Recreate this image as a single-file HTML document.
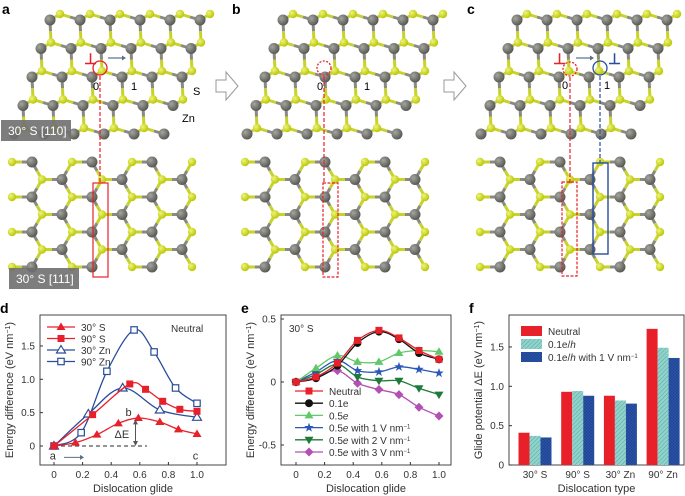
<!DOCTYPE html>
<html><head><meta charset="utf-8"><style>
html,body{margin:0;padding:0;background:#fff;}
svg{display:block;font-family:"Liberation Sans",sans-serif;}
</style></head><body>
<svg id="fig" width="685" height="496" viewBox="0 0 685 496">
<defs>
<pattern id="hatch" width="3" height="3" patternUnits="userSpaceOnUse" patternTransform="rotate(45)"><rect width="3" height="3" fill="#8fd3cc"/><line x1="0" y1="0" x2="0" y2="3" stroke="#5aa7a0" stroke-width="1"/></pattern>
<pattern id="cross" width="3" height="3" patternUnits="userSpaceOnUse"><rect width="3" height="3" fill="#1f4394"/><path d="M0 0L3 3M3 0L0 3" stroke="#2d56a8" stroke-width="0.6"/></pattern>
<radialGradient id="gS" cx="0.35" cy="0.35" r="0.7"><stop offset="0" stop-color="#eef57a"/><stop offset="1" stop-color="#b8c400"/></radialGradient>
<radialGradient id="gZ" cx="0.35" cy="0.35" r="0.7"><stop offset="0" stop-color="#a5a5a0"/><stop offset="1" stop-color="#55554f"/></radialGradient>
</defs>
<g id="atoms"></g>
<g id="overlay"></g>
<g id="chartD"></g>
<g id="chartE"></g>
<g id="chartF"></g>
</svg>
<script>
// ---------- chart data ----------
const dX30S=[0,0.15,0.3,0.45,0.59,0.74,0.87,1.0];
const dY30S=[0,0.05,0.17,0.34,0.42,0.36,0.25,0.18];
const dX90S=[0,0.27,0.53,0.64,0.76,0.88,1.0];
const dY90S=[0,0.47,0.93,0.85,0.67,0.55,0.52];
const dX30Zn=[0,0.24,0.48,0.74,1.0];
const dY30Zn=[0,0.48,0.87,0.54,0.43];
const dX90Zn=[0,0.19,0.37,0.56,0.7,0.85,1.0];
const dY90Zn=[0,0.2,1.12,1.74,1.41,0.87,0.64];
const dXTicks=[0,0.2,0.4,0.6,0.8,1.0];
const dXTickLabels=["0","0.2","0.4","0.6","0.8","1.0"];
const dYTicks=[0,0.5,1.0,1.5];
const dYTickLabels=["0","0.5","1.0","1.5"];

const eX=[0,0.14,0.29,0.43,0.58,0.72,0.86,1.0];
const eNeutral=[0,0.04,0.15,0.33,0.41,0.35,0.25,0.18];
const e01=[0,0.03,0.13,0.31,0.40,0.34,0.23,0.18];
const e05=[0,0.11,0.21,0.16,0.16,0.23,0.25,0.24];
const e05V1=[0,0.08,0.17,0.09,0.08,0.12,0.10,0.07];
const e05V2=[0,0.06,0.14,0.04,0.01,0.01,-0.05,-0.10];
const e05V3=[0,0.04,0.09,-0.01,-0.06,-0.10,-0.20,-0.27];
const eXTicks=[0,0.2,0.4,0.6,0.8,1.0];
const eXTickLabels=["0","0.2","0.4","0.6","0.8","1.0"];
const eYTicks=[-0.5,0,0.5];
const eYTickLabels=["-0.5","0","0.5"];

const fCategories=["30° S","90° S","30° Zn","90° Zn"];
const fNeutral=[0.41,0.93,0.88,1.73];
const fCharged=[0.37,0.94,0.82,1.49];
const fField=[0.35,0.88,0.78,1.36];
const fYTicks=[0,0.5,1.0,1.5];
const fYTickLabels=["0","0.5","1.0","1.5"];

const NS="http://www.w3.org/2000/svg";
function mk(parent,tag,attrs,text){const e=document.createElementNS(NS,tag);for(const k in attrs)e.setAttribute(k,attrs[k]);if(text!==undefined)e.textContent=text;parent.appendChild(e);return e;}
function smooth(pts){
  let d="M"+pts[0][0]+" "+pts[0][1];
  for(let i=0;i<pts.length-1;i++){
    const p0=pts[Math.max(0,i-1)],p1=pts[i],p2=pts[i+1],p3=pts[Math.min(pts.length-1,i+2)];
    const c1=[p1[0]+(p2[0]-p0[0])/6,p1[1]+(p2[1]-p0[1])/6];
    const c2=[p2[0]-(p3[0]-p1[0])/6,p2[1]-(p3[1]-p1[1])/6];
    d+=" C"+c1[0]+" "+c1[1]+" "+c2[0]+" "+c2[1]+" "+p2[0]+" "+p2[1];
  }
  return d;
}
function marker(g,type,x,y,col){
  let m;
  if(type==="tri"){m=mk(g,"path",{d:`M${x} ${y-4.5}L${x+4.5} ${y+3}L${x-4.5} ${y+3}Z`,fill:col});}
  else if(type==="otri"){m=mk(g,"path",{d:`M${x} ${y-4.5}L${x+4.5} ${y+3}L${x-4.5} ${y+3}Z`,fill:"#fff",stroke:col,"stroke-width":1.2});}
  else if(type==="sq"){m=mk(g,"rect",{x:x-3.5,y:y-3.5,width:7,height:7,fill:col});}
  else if(type==="osq"){m=mk(g,"rect",{x:x-3.2,y:y-3.2,width:6.4,height:6.4,fill:"#fff",stroke:col,"stroke-width":1.2});}
  else if(type==="circ"){m=mk(g,"circle",{cx:x,cy:y,r:4,fill:col});}
  else if(type==="dtri"){m=mk(g,"path",{d:`M${x} ${y+4.5}L${x+4.5} ${y-3}L${x-4.5} ${y-3}Z`,fill:col});}
  else if(type==="dia"){m=mk(g,"path",{d:`M${x} ${y-4.5}L${x+4.5} ${y}L${x} ${y+4.5}L${x-4.5} ${y}Z`,fill:col});}
  else if(type==="star"){let d="";for(let i=0;i<10;i++){const r=i%2?2:5;const a=-Math.PI/2+i*Math.PI/5;d+=(i?"L":"M")+(x+r*Math.cos(a))+" "+(y+r*Math.sin(a));}m=mk(g,"path",{d:d+"Z",fill:col});}
  
  
  return m;
}

// ---------- atoms ----------
const atoms=document.getElementById("atoms");
function drawLattice(list){
  const bonds=mk(atoms,"g",{});
  for(let i=0;i<list.length;i++)for(let j=i+1;j<list.length;j++){
    const a=list[i],b=list[j];if(a.t===b.t)continue;
    const d=Math.hypot(a.x-b.x,a.y-b.y);
    if(d<a.bl){
      const mx=(a.x+b.x)/2,my=(a.y+b.y)/2;
      mk(bonds,"line",{x1:a.x,y1:a.y,x2:mx,y2:my,stroke:a.t==="S"?"#c9d22a":"#8a8a84","stroke-width":3});
      mk(bonds,"line",{x1:b.x,y1:b.y,x2:mx,y2:my,stroke:b.t==="S"?"#c9d22a":"#8a8a84","stroke-width":3});
    }
  }
  list.forEach(p=>{const c=mk(atoms,"circle",{cx:p.x,cy:p.y,r:p.t==="S"?4.2:5.5,fill:p.t==="S"?"url(#gS)":"url(#gZ)"});
    
    });
}
function topLattice(ox){
  const list=[];
  for(let i=-8;i<14;i++)for(let j=0;j<6;j++){
    const zx=ox+50+i*30-j*9, zy=20+j*28.5;
    [[zx,zy,"Zn"],[zx+10,zy-6,"S"]].forEach(([x,y,t])=>{
      if(y>=7&&y<=140&&x>=ox+47-(y-13)*0.38&&x<=ox+216-(y-13)*0.38)list.push({x,y,t,bl:23.5});
    });
  }
  drawLattice(list);
}
function botLattice(ox,xmax){
  const list=[];
  for(let i=-2;i<10;i++)for(let j=-6;j<10;j++){
    const ax=ox+i*30, ay=162+j*35+i*17.5;
    [[ax,ay,"S"],[ax+20,ay,"Zn"]].forEach(([x,y,t])=>{
      if(y>=158&&y<=282&&x>=ox&&x<=xmax)list.push({x,y,t,bl:23});
    });
  }
  drawLattice(list);
}
topLattice(0);topLattice(233);topLattice(467);
botLattice(12,196);botLattice(245,428);botLattice(480,662);

// ---------- overlay ----------
const ov=document.getElementById("overlay");
function lbl(x,y,t,extra){const e=mk(ov,"text",Object.assign({x:x,y:y,"font-size":14,"font-weight":"bold"},extra||{}),t);return e;}
const la=lbl(2,14,"a");
const lb=lbl(232,14,"b");
const lc=lbl(467,14,"c");
[[1,120,"30° S [110]"],[9,268,"30° S [111]"]].forEach(([x,y,t])=>{
  const g=mk(ov,"g",{});
  mk(g,"rect",{x:x,y:y,width:70,height:21,fill:"#6f6f6f",opacity:0.9});
  mk(g,"text",{x:x+7,y:y+15,"font-size":12,fill:"#fff"},t);
});
[[216,86],[444,86]].forEach(([x,y])=>{const a=mk(ov,"path",{d:`M${x} ${y-6}h10v-8l12 14l-12 14v-8h-10z`,fill:"#fff",stroke:"#999","stroke-width":1});});
// panel a
mk(ov,"circle",{cx:100,cy:68,r:7,fill:"none",stroke:"#e8202a","stroke-width":1.3});
mk(ov,"text",{x:84,y:64,"font-size":15,fill:"#e8202a","font-weight":"bold"},"⊥");
mk(ov,"line",{x1:108,y1:58,x2:124,y2:58,stroke:"#5a6e8c","stroke-width":1.2});
mk(ov,"path",{d:"M126 58l-4 -2.5v5z",fill:"#5a6e8c"});
mk(ov,"text",{x:93,y:90,"font-size":11},"0");
mk(ov,"text",{x:131,y:90,"font-size":11},"1");
mk(ov,"text",{x:193,y:95,"font-size":11},"S");
mk(ov,"text",{x:182,y:122,"font-size":11},"Zn");
mk(ov,"line",{x1:100,y1:76,x2:100,y2:183,stroke:"#e8202a","stroke-width":1.2,"stroke-dasharray":"4 2"});
mk(ov,"rect",{x:93,y:183,width:15,height:94,fill:"none",stroke:"#e8202a","stroke-width":1.2});
// panel b
mk(ov,"circle",{cx:324,cy:68,r:7,fill:"none",stroke:"#e8202a","stroke-width":1.3,"stroke-dasharray":"2 1.5"});
mk(ov,"text",{x:317,y:90,"font-size":11},"0");
mk(ov,"text",{x:364,y:90,"font-size":11},"1");
mk(ov,"line",{x1:324,y1:76,x2:324,y2:183,stroke:"#e8202a","stroke-width":1.2,"stroke-dasharray":"4 2"});
mk(ov,"rect",{x:323,y:183,width:15,height:94,fill:"none",stroke:"#e8202a","stroke-width":1.2,"stroke-dasharray":"3 1.5"});
// panel c
mk(ov,"circle",{cx:570,cy:69,r:7,fill:"none",stroke:"#e8202a","stroke-width":1.3,"stroke-dasharray":"2 1.5"});
mk(ov,"circle",{cx:600,cy:68,r:7,fill:"none",stroke:"#2a4d9c","stroke-width":1.3});
mk(ov,"text",{x:553,y:64,"font-size":15,fill:"#e8202a","font-weight":"bold"},"⊥");
mk(ov,"text",{x:608,y:64,"font-size":15,fill:"#2a4d9c","font-weight":"bold"},"⊥");
mk(ov,"line",{x1:576,y1:58,x2:592,y2:58,stroke:"#5a6e8c","stroke-width":1.2});
mk(ov,"path",{d:"M594 58l-4 -2.5v5z",fill:"#5a6e8c"});
mk(ov,"text",{x:562,y:89,"font-size":11},"0");
mk(ov,"text",{x:604,y:89,"font-size":11},"1");
mk(ov,"line",{x1:570,y1:77,x2:570,y2:183,stroke:"#e8202a","stroke-width":1.2,"stroke-dasharray":"4 2"});
mk(ov,"line",{x1:600,y1:76,x2:600,y2:163,stroke:"#2a4d9c","stroke-width":1.2,"stroke-dasharray":"4 2"});
mk(ov,"rect",{x:562,y:182,width:15,height:94,fill:"none",stroke:"#e8202a","stroke-width":1.2,"stroke-dasharray":"3 1.5"});
mk(ov,"rect",{x:593,y:163,width:15,height:91,fill:"none",stroke:"#2a4d9c","stroke-width":1.4});

// ---------- axis helper ----------
function axes(g,box,sx,sy,xt,xtl,yt,ytl,xlabel,ylabel,letter){
  const fr=mk(g,"rect",{x:box.x0,y:box.y0,width:box.x1-box.x0,height:box.y1-box.y0,fill:"none",stroke:"#333","stroke-width":0.9});
  
  if(xt)xt.forEach((v,i)=>{const x=sx(v);mk(g,"line",{x1:x,y1:box.y1,x2:x,y2:box.y1-3,stroke:"#333"});
    const t=mk(g,"text",{x:x,y:box.y1+13,"font-size":10,"text-anchor":"middle",fill:"#333"},xtl[i]);});
  yt.forEach((v,i)=>{const y=sy(v);mk(g,"line",{x1:box.x0,y1:y,x2:box.x0+3,y2:y,stroke:"#333"});
    const t=mk(g,"text",{x:box.x0-5,y:y+3.5,"font-size":10,"text-anchor":"end",fill:"#333"},ytl[i]);});
  const xl=mk(g,"text",{x:(box.x0+box.x1)/2,y:492,"font-size":11,"text-anchor":"middle",fill:"#333"},xlabel);
  
  const yl=mk(g,"text",{transform:`translate(${box.x0-27},${(box.y0+box.y1)/2}) rotate(-90)`,"font-size":11,"text-anchor":"middle",fill:"#333"});
  yl.innerHTML=ylabel;
  
  const L=mk(g,"text",{x:box.x0-40,y:313,"font-size":14,"font-weight":"bold"},letter);
  
}
function series(g,xs,ys,sx,sy,col,mtype,name){
  const pts=xs.map((x,i)=>[sx(x),sy(ys[i])]);
  const s=mk(g,"g",{});
  mk(s,"path",{d:smooth(pts),fill:"none",stroke:col,"stroke-width":1.3});
  pts.forEach(p=>marker(s,mtype,p[0],p[1],col));
}
function legend(g,x,y,dy,items){
  items.forEach((it,i)=>{const yy=y+i*dy;const e=mk(g,"g",{});
    
    mk(e,"line",{x1:x,y1:yy,x2:x+28,y2:yy,stroke:it.c,"stroke-width":1.3});
    marker(e,it.m,x+14,yy,it.c);
    const t=mk(e,"text",{x:x+34,y:yy+4,"font-size":10,fill:"#333"});t.innerHTML=it.t;});
}
const RED="#e8202a",BLUE="#2a4d9c";

// ---------- chart d ----------
(function(){
  const g=document.getElementById("chartD");
  const box={x0:40,y0:315,x1:226,y1:465};
  const sx=v=>54+v*143, sy=v=>446-v*66.7;
  axes(g,box,sx,sy,dXTicks,dXTickLabels,dYTicks,dYTickLabels,"Dislocation glide","Energy difference (eV nm<tspan baseline-shift='super' font-size='7'>−1</tspan>)","d");
  mk(g,"line",{x1:sx(0),y1:sy(0),x2:sx(0.65),y2:sy(0),stroke:"#555","stroke-width":1.2,"stroke-dasharray":"4 3"});
  series(g,dX90Zn,dY90Zn,sx,sy,BLUE,"osq","series-90-zn");
  series(g,dX30Zn,dY30Zn,sx,sy,BLUE,"otri","series-30-zn");
  series(g,dX90S,dY90S,sx,sy,RED,"sq","series-90-s");
  series(g,dX30S,dY30S,sx,sy,RED,"tri","series-30-s");
  const ax=sx(0.57);
  mk(g,"line",{x1:ax,y1:sy(0.02),x2:ax,y2:sy(0.38),stroke:"#555","stroke-width":1});
  mk(g,"path",{d:`M${ax} ${sy(0.4)}l-2.5 5h5z M${ax} ${sy(0)}l-2.5 -5h5z`,fill:"#555"});
  mk(g,"text",{x:ax-21,y:sy(0.12),"font-size":11,fill:"#333"},"ΔE");
  mk(g,"text",{x:sx(0.5),y:sy(0.45),"font-size":11,fill:"#333"},"b");
  mk(g,"text",{x:sx(-0.03),y:sy(-0.2),"font-size":11,fill:"#333"},"a");
  mk(g,"line",{x1:sx(0.07),y1:sy(-0.17),x2:sx(0.19),y2:sy(-0.17),stroke:"#5a6e8c"});
  mk(g,"path",{d:`M${sx(0.21)} ${sy(-0.17)}l-4 -2.5v5z`,fill:"#5a6e8c"});
  mk(g,"text",{x:sx(0.97),y:sy(-0.2),"font-size":11,fill:"#333"},"c");
  mk(g,"text",{x:171,y:332,"font-size":10,fill:"#333"},"Neutral");
  legend(g,47,327,11.5,[{c:RED,m:"tri",t:"30° S"},{c:RED,m:"sq",t:"90° S"},{c:BLUE,m:"otri",t:"30° Zn"},{c:BLUE,m:"osq",t:"90° Zn"}]);
})();

// ---------- chart e ----------
(function(){
  const g=document.getElementById("chartE");
  const box={x0:281,y0:315,x1:451,y1:465};
  const sx=v=>296+v*143, sy=v=>382-v*126;
  axes(g,box,sx,sy,eXTicks,eXTickLabels,eYTicks,eYTickLabels,"Dislocation glide","Energy difference (eV nm<tspan baseline-shift='super' font-size='7'>−1</tspan>)","e");
  series(g,eX,e05V3,sx,sy,"#b44fb4","dia","series-05e-3v");
  series(g,eX,e05V2,sx,sy,"#1f7a3a","dtri","series-05e-2v");
  series(g,eX,e05V1,sx,sy,"#2a57b8","star","series-05e-1v");
  series(g,eX,e05,sx,sy,"#62c86a","tri","series-05e");
  series(g,eX,e01,sx,sy,"#111","circ","series-01e");
  series(g,eX,eNeutral,sx,sy,RED,"sq","series-neutral");
  mk(g,"text",{x:289,y:332,"font-size":10,fill:"#333"},"30° S");
  const sup="<tspan baseline-shift='super' font-size='6'>−1</tspan>";
  legend(g,295,391,12.2,[{c:RED,m:"sq",t:"Neutral"},{c:"#111",m:"circ",t:"0.1e"},{c:"#62c86a",m:"tri",t:"0.5<tspan font-style='italic'>e</tspan>"},{c:"#2a57b8",m:"star",t:"0.5<tspan font-style='italic'>e</tspan> with 1 V nm"+sup},{c:"#1f7a3a",m:"dtri",t:"0.5<tspan font-style='italic'>e</tspan> with 2 V nm"+sup},{c:"#b44fb4",m:"dia",t:"0.5<tspan font-style='italic'>e</tspan> with 3 V nm"+sup}]);
})();

// ---------- chart f ----------
(function(){
  const g=document.getElementById("chartF");
  const box={x0:509,y0:315,x1:684,y1:465};
  const sy=v=>465-v*78.7;
  const cx=i=>535+i*42.7;
  axes(g,box,null,sy,null,null,fYTicks,fYTickLabels,"Dislocation type","Glide potential ΔE (eV nm<tspan baseline-shift='super' font-size='7'>−1</tspan>)","f");
  const fills=[RED,"url(#hatch)","url(#cross)"];
  const names=["bar-neutral","bar-charged","bar-field"];
  const sets=[fNeutral,fCharged,fField];
  fCategories.forEach((c,i)=>{
    sets.forEach((s,k)=>{const y=sy(s[i]);
      const r=mk(g,"rect",{x:cx(i)+(k-1.5)*11,y:y,width:11,height:465-y,fill:fills[k]});
      });
    const t=mk(g,"text",{x:cx(i),y:478,"font-size":10,"text-anchor":"middle",fill:"#333"},c);
    
  });
  [["Neutral",RED],["0.1e/<tspan font-style='italic'>h</tspan>","url(#hatch)"],["0.1e/<tspan font-style='italic'>h</tspan> with 1 V nm<tspan baseline-shift='super' font-size='6'>−1</tspan>","url(#cross)"]].forEach((it,i)=>{
    const e=mk(g,"g",{});
    mk(e,"rect",{x:521,y:326+i*13,width:21,height:10,fill:it[1]});
    const t=mk(e,"text",{x:548,y:335+i*13,"font-size":10,fill:"#333"});t.innerHTML=it[0];
  });
})();
</script>
</body></html>
